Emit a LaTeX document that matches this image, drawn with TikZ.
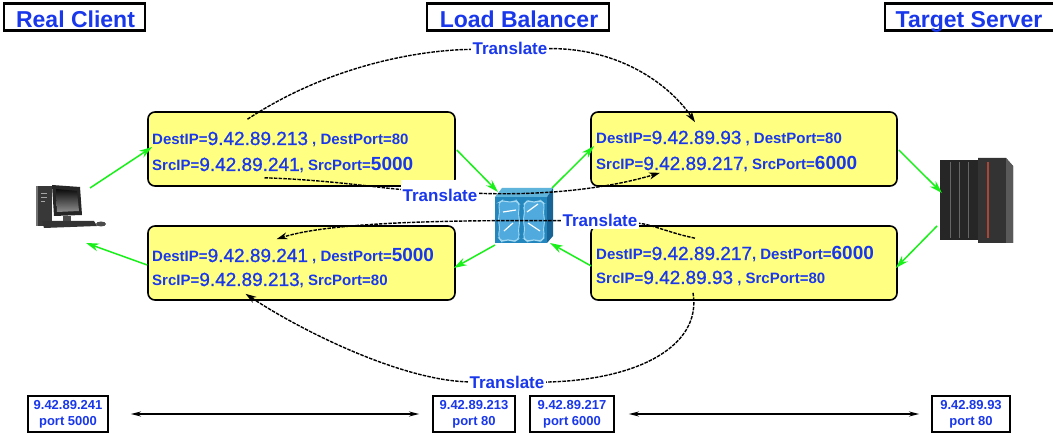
\documentclass[tikz,border=0pt]{standalone}
\usepackage{fontspec}
\setmainfont{Liberation Sans}
\newfontfamily\ipfont{Liberation Sans}[FakeBold=0.9]
\usetikzlibrary{arrows.meta,calc}

\definecolor{lblblue}{RGB}{25,55,235}
\definecolor{boxyellow}{RGB}{255,255,130}
\definecolor{flowgreen}{RGB}{25,240,25}
\definecolor{lbfront}{RGB}{35,135,190}
\definecolor{lbtop}{RGB}{95,180,220}
\definecolor{lbside}{RGB}{25,100,150}
\definecolor{lbblob}{RGB}{80,170,222}
\definecolor{lbedge}{RGB}{165,218,242}
\definecolor{rackred}{RGB}{170,70,55}

% text pieces inside the yellow packet boxes
\newcommand{\lbl}[1]{{\fontsize{15}{18}\selectfont\bfseries #1}}
\newcommand{\ipnum}[1]{{\fontsize{19}{22}\selectfont\ipfont #1}}
\newcommand{\ipbold}[1]{{\fontsize{19}{22}\selectfont\bfseries #1}}

\tikzset{
  headbox/.style={draw=black, line width=2.5pt, minimum height=27pt, inner sep=0pt},
  headtext/.style={text=lblblue, font=\fontsize{23}{26}\selectfont\bfseries, anchor=base, inner sep=0pt},
  databox/.style={draw=black, line width=1.6pt, rounded corners=7pt, fill=boxyellow,
    minimum width=307pt, minimum height=74pt, inner sep=0pt},
  boxline/.style={anchor=base west, text=lblblue, inner sep=0pt},
  xlatelabel/.style={fill=white, text=lblblue, font=\fontsize{17}{20}\selectfont\bfseries,
    inner sep=1.5pt, anchor=base},
  xlatepath/.style={black, line width=1.4pt, dash pattern=on 3.5pt off 1.2pt},
  xlatetip/.style={xlatepath, -{Stealth[length=11pt,width=7pt]}},
  flow/.style={flowgreen, line width=1.5pt, -{Stealth[length=13pt,width=8pt]}},
  addrbox/.style={draw=black, line width=1.8pt, minimum height=36pt, align=center,
    text=lblblue, font=\fontsize{13}{16}\selectfont\bfseries, inner sep=0pt},
  link/.style={black, line width=2pt, {Stealth[length=10pt,width=5pt]}-{Stealth[length=10pt,width=5pt]}},
  iconarea/.style={inner sep=0pt}
}

\begin{document}
\begin{tikzpicture}[x=1pt, y=-1pt]
\useasboundingbox (0,0) rectangle (1053,435);
\fill[white] (0,0) rectangle (1053,435);

% ---- headings ----
\node[headbox, minimum width=141pt] (clientbox) at (74.5,17) {};
\node[headtext] (clienttext) at (75.5,28) {Real Client};
\node[headbox, minimum width=182pt] (lbbox) at (518,17) {};
\node[headtext] (lbtext) at (519,28) {Load Balancer};
\node[headbox, minimum width=180pt] (srvbox) at (975,17) {};
\node[headtext] (srvtext) at (969,28) {Target Server};

% ---- client workstation ----
\node[iconarea, minimum width=73pt, minimum height=45pt] (pc) at (72,205) {};
\fill[black!78] (36,186) rectangle (52,226);
\fill[black!55] (36,186) rectangle (38,226);
\draw[black!35, line width=0.8pt] (41,193) -- (47,193) (41,197) -- (47,197) (41,201) -- (45,201);
\fill[black!85] (52,185) -- (80,187) -- (82,215) -- (54,216) -- cycle;
\shade[top color=black!95, bottom color=black!45] (56,189) -- (77,191) -- (79,211) -- (57,212) -- cycle;
\fill[black!70] (63,216) rectangle (71,221);
\fill[black!80] (42,221) -- (94,221) -- (97,226) -- (44,228) -- cycle;
\fill[black!70] (101,224) ellipse [x radius=5pt, y radius=2.5pt];

% ---- target server ----
\node[iconarea, minimum width=75pt, minimum height=85pt] (srv) at (976,200) {};
\fill[black!85] (940,160) rectangle (978,240);
\draw[black!60, line width=1pt] (950,162) -- (950,238) (959,162) -- (959,238) (968,162) -- (968,238);
\fill[black!80] (978,158) -- (1006,158) -- (1013,166) -- (1013,243) -- (978,243) -- cycle;
\fill[black!65] (1006,158) -- (1013,166) -- (1013,243) -- (1006,243) -- cycle;
\draw[rackred, line width=2pt] (988,162) -- (988,238);

% ---- load balancer ----
\node[iconarea, minimum width=58pt, minimum height=55pt] (lb) at (523,215) {};
\fill[lbtop] (495,197) -- (502,188) -- (553,188) -- (547,197) -- cycle;
\fill[lbside] (547,197) -- (553,188) -- (553,236) -- (547,243) -- cycle;
\fill[lbfront] (495,197) rectangle (547,243);
\draw[lbedge, fill=lbblob, line width=0.9pt, rounded corners=4pt]
  (498,203) -- (503,200) -- (510,203) -- (516,200) -- (520,205) -- (518,213) -- (520,222)
  -- (518,231) -- (520,238) -- (514,242) -- (508,239) -- (502,242) -- (498,237) -- (500,228)
  -- (498,220) -- (500,211) -- cycle;
\draw[lbedge, fill=lbblob, line width=0.9pt, rounded corners=4pt]
  (523,205) -- (528,200) -- (534,203) -- (540,200) -- (545,204) -- (543,212) -- (545,221)
  -- (543,230) -- (545,237) -- (540,242) -- (534,239) -- (528,242) -- (523,238) -- (525,229)
  -- (523,220) -- (525,211) -- cycle;
\draw[white, line width=1.2pt] (503,212) -- (516,210) (504,231) -- (513,223)
  (527,212) -- (538,204) (528,223) -- (540,231);

% ---- packet boxes ----
\node[databox] (ul) at (301.5,149) {};
\node[databox, minimum width=306pt] (ur) at (744,149) {};
\node[databox] (ll) at (301.5,263) {};
\node[databox, minimum width=306pt] (lr) at (744,263) {};

\node[boxline] (ul1) at (152,145) {\lbl{DestIP=}\ipnum{9.42.89.213}\lbl{ , DestPort=80}};
\node[boxline] (ul2) at (152,171) {\lbl{SrcIP=}\ipnum{9.42.89.241}\lbl{, SrcPort=}\ipbold{5000}};
\node[boxline] (ur1) at (596,144) {\lbl{DestIP=}\ipnum{9.42.89.93}\lbl{ , DestPort=80}};
\node[boxline] (ur2) at (596,170) {\lbl{SrcIP=}\ipnum{9.42.89.217}\lbl{, SrcPort=}\ipbold{6000}};
\node[boxline] (ll1) at (152,262) {\lbl{DestIP=}\ipnum{9.42.89.241}\lbl{ , DestPort=}\ipbold{5000}};
\node[boxline] (ll2) at (152,286) {\lbl{SrcIP=}\ipnum{9.42.89.213}\lbl{, SrcPort=80}};
\node[boxline] (lr1) at (596,260) {\lbl{DestIP=}\ipnum{9.42.89.217}\lbl{, DestPort=}\ipbold{6000}};
\node[boxline] (lr2) at (596,284) {\lbl{SrcIP=}\ipnum{9.42.89.93}\lbl{ , SrcPort=80}};

% ---- packet flow ----
\draw[flow] ([shift={(18,-17)}]pc.center) -- ([shift={(5,-2)}]ul.west);
\draw[flow] ([shift={(1,1)}]ul.east) -- ([shift={(-25,-23)}]lb.center);
\draw[flow] ([shift={(29,-27)}]lb.center) -- ([shift={(4,-3)}]ur.west);
\draw[flow] ([shift={(1,1)}]ur.east) -- ([shift={(-34,-7)}]srv.center);
\draw[flow] ([shift={(-39,26)}]srv.center) -- ([shift={(-2,5)}]lr.east);
\draw[flow] ([shift={(1,3)}]lr.west) -- ([shift={(27,28)}]lb.center);
\draw[flow] ([shift={(-28,30)}]lb.center) -- ([shift={(-2,5)}]ll.east);
\draw[flow] ([shift={(0,2)}]ll.west) -- ([shift={(14,38)}]pc.center);

% ---- address translation ----
\node[xlatelabel] (ta) at (510,55) {Translate};
\node[xlatelabel, text height=20pt] (tb) at (440,202) {Translate};
\node[xlatelabel] (tc) at (600,227) {Translate};
\node[xlatelabel] (td) at (507,389) {Translate};

\draw[xlatepath] ([shift={(-54,8)}]ul.north) .. controls (330,65) and (420,50) .. (ta);
\draw[xlatetip] (ta) .. controls (620,48) and (670,85) .. ([shift={(-49,11)}]ur.north);

\draw[xlatepath] ([shift={(-37,-9)}]ul.south) .. controls (330,180) and (380,188) .. (tb);
\draw[xlatetip] (tb) .. controls (560,196) and (620,185) .. ([shift={(-84,-14)}]ur.south);

\draw[xlatepath] ([shift={(-49,13)}]lr.north) .. controls (670,233) and (650,224) .. (tc);
\draw[xlatetip] (tc) .. controls (450,220) and (330,222) .. ([shift={(-25,14)}]ll.north);

\draw[xlatepath] ([shift={(-51,-8)}]lr.south) .. controls (702,345) and (640,380) .. (td);
\draw[xlatetip] (td) .. controls (400,380) and (300,330) .. ([shift={(-56,-7)}]ll.south);

% ---- end-to-end addresses ----
\node[addrbox, minimum width=80pt] (bb1) at (68,414) {9.42.89.241\\port 5000};
\node[addrbox, minimum width=82pt] (bb2) at (474,414) {9.42.89.213\\port 80};
\node[addrbox, minimum width=84pt] (bb3) at (572,414) {9.42.89.217\\port 6000};
\node[addrbox, minimum width=78pt] (bb4) at (971,414) {9.42.89.93\\port 80};
\draw[link, shorten <=22pt, shorten >=13pt] (bb1) -- (bb2);
\draw[link, shorten <=14pt, shorten >=12pt] (bb3) -- (bb4);
\end{tikzpicture}
\end{document}
